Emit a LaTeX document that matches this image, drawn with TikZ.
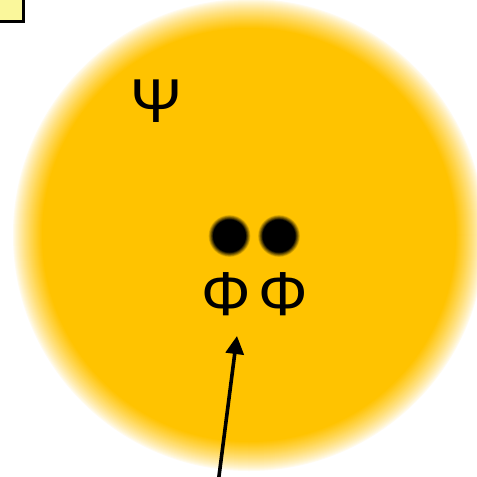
\documentclass[tikz,border=0pt]{standalone}
\usepackage{fontspec}
\setmainfont{Liberation Sans}
\usetikzlibrary{arrows.meta}
\definecolor{gold}{RGB}{255,195,0}
\definecolor{boxfill}{RGB}{250,247,155}
\tikzset{
  greek/.style={inner sep=0pt, font=\fontsize{62}{62}\selectfont},
  pointer/.style={line width=3.6pt, -{Triangle[width=18pt,length=18pt]}}
}
\begin{document}
\begin{tikzpicture}[x=1pt,y=-1pt]
\useasboundingbox (0,0) rectangle (477,477);
\begin{scope}
\clip (0,0) rectangle (477,477);
% fuzzy disc
\foreach \i in {0,...,30}{
  \pgfmathsetmacro\rr{237-30*\i/30}
  \pgfmathsetmacro\pc{100*(\i/30)^0.8}
  \fill[gold!\pc!white] (249,235) circle (\rr);
}
% corner box
\draw[line width=3pt, fill=boxfill] (-10,-10) rectangle (23.5,21.5);
% dots
\foreach \c in {229.5,279}{
  \foreach \i in {0,...,8}{
    \pgfmathsetmacro\rr{21.5-5*\i/8}
    \pgfmathsetmacro\pc{100*\i/8}
    \fill[black!\pc!gold] (\c,236) circle (\rr);
  }
}
\end{scope}
\coordinate (dotA) at (229.5,236);
\coordinate (dotB) at (279,236);
\node[greek] (psi) at (156,101) {Ψ};
\node[greek] (phiA) at (226,294) {Φ};
\node[greek] (phiB) at (283,294) {Φ};
\coordinate (tail) at (218.5,480);
\coordinate (head) at (237,336);
\draw[pointer] (tail) -- (head);
\end{tikzpicture}
\end{document}
